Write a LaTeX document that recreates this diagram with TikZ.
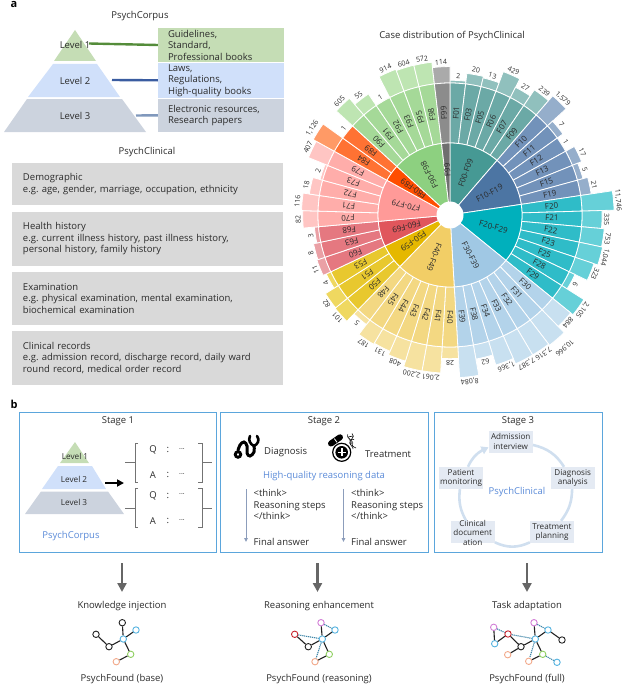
\documentclass[tikz,border=0pt]{standalone}
\usepackage{fontspec}
\setmainfont{Open Sans}
\usetikzlibrary{arrows.meta,bending}
\definecolor{txt}{HTML}{2B2B2B}
\definecolor{inA}{HTML}{469994}\definecolor{midA}{HTML}{6BA9A6}\definecolor{outA}{HTML}{90C0BD}
\definecolor{inB}{HTML}{4C75A3}\definecolor{midB}{HTML}{7292BA}\definecolor{outB}{HTML}{95AECB}
\definecolor{inC}{HTML}{00B0BC}\definecolor{midC}{HTML}{2FBCC8}\definecolor{outC}{HTML}{66D0D8}
\definecolor{inD}{HTML}{A0C8E4}\definecolor{midD}{HTML}{B3D3EA}\definecolor{outD}{HTML}{C8E0F0}
\definecolor{inE}{HTML}{F2CE66}\definecolor{midE}{HTML}{F3D882}\definecolor{outE}{HTML}{F6E2A0}
\definecolor{inF}{HTML}{E5B800}\definecolor{midF}{HTML}{E8C82E}\definecolor{outF}{HTML}{EFD860}
\definecolor{inG}{HTML}{E0565C}\definecolor{midG}{HTML}{E57880}\definecolor{outG}{HTML}{EAA0A5}
\definecolor{inH}{HTML}{FF9A98}\definecolor{midH}{HTML}{FFADAA}\definecolor{outH}{HTML}{FFC5C3}
\definecolor{inI}{HTML}{FF4E00}\definecolor{midI}{HTML}{FF7233}\definecolor{outI}{HTML}{FF9A66}
\definecolor{inJ}{HTML}{8DD080}\definecolor{midJ}{HTML}{A5D998}\definecolor{outJ}{HTML}{BEE5B2}
\definecolor{inK}{HTML}{6F6F6F}\definecolor{midK}{HTML}{8C8C8C}\definecolor{outK}{HTML}{AAAAAA}
\definecolor{lvlg}{HTML}{C5DDB5}\definecolor{lvlb}{HTML}{D0E0FA}\definecolor{lvlc}{HTML}{CCD3DE}
\definecolor{stagec}{HTML}{5BA6DC}\definecolor{bluetxt}{HTML}{5B8BD8}
\definecolor{nblk}{HTML}{222222}\definecolor{nblu}{HTML}{55B3E0}\definecolor{ngrn}{HTML}{8FCF60}
\definecolor{nora}{HTML}{F2A98A}\definecolor{nmag}{HTML}{D27FD6}\definecolor{nred}{HTML}{C8222B}
\definecolor{dotc}{HTML}{3F86A8}\definecolor{cyc}{HTML}{D0DFEF}\definecolor{cycbox}{HTML}{E4EAF3}
\definecolor{lineg}{HTML}{548C3A}\definecolor{lineb}{HTML}{3A5CA0}\definecolor{linec}{HTML}{8098BC}
\definecolor{arrowc}{HTML}{8C9DBB}
\newcommand\sect[5]{\fill[#1,draw=white,line width=.8pt] (#2:#4pt) -- (#2:#5pt) arc[start angle=#2,end angle=#3,radius=#5pt] -- (#3:#4pt) arc[start angle=#3,end angle=#2,radius=#4pt] -- cycle;}
\tikzset{
 every node/.style={text=txt,font=\fontsize{9.5}{11.5}\selectfont\frenchspacing},
 lab/.style={font=\fontsize{9.5}{11.5}\selectfont\frenchspacing},
 slab/.style={font=\fontsize{8.2}{10}\selectfont},
 sun/.style={font=\fontsize{8}{9}\selectfont,inner sep=0pt},
 val/.style={font=\fontsize{7}{8}\selectfont,inner sep=0pt},
 panel/.style={font=\fontsize{11}{12}\selectfont\bfseries,text=black},
 srcbox/.style={rectangle,minimum width=126pt,text width=106pt,inner xsep=10pt,inner ysep=0pt,align=left},
 graybox/.style={rectangle,fill=black!15,minimum width=271pt,text width=249pt,inner xsep=11pt,inner ysep=0pt,align=left},
 stagebox/.style={draw=stagec,line width=1pt,fill=none},
 cycnode/.style={rectangle,fill=cycbox,font=\fontsize{8.1}{9.6}\selectfont,inner sep=1pt,align=center,minimum width=44pt,minimum height=22pt},
 cycline/.style={draw=cyc,line width=2.6pt},
 down/.style={draw=black!60,line width=2.7pt,-{Triangle[width=9pt,length=9pt]}},
 gn/.style={circle,draw=#1,fill=white,inner sep=0pt,minimum size=6.4pt,line width=.9pt},
 se/.style={draw=nblk,line width=1.1pt},
 de/.style={draw=dotc,line width=1.1pt,dash pattern=on 1.2pt off .8pt},
 thinarrow/.style={draw=arrowc,line width=1pt,-{Triangle[width=3.5pt,length=4pt]}},
 brk/.style={draw=black!55,line width=.7pt},
}
\begin{document}
\begin{tikzpicture}[x=1pt,y=-1pt]
\useasboundingbox (0,0) rectangle (621,685);
\node[panel] (pa) at (14,4) {a};
\node[panel] (pb) at (14,404) {b};
\node[lab] (tCorpus) at (140,16) {PsychCorpus};
\node[lab] (tClin) at (147,152) {PsychClinical};
\node[lab] (tCase) at (452,36) {Case distribution of PsychClinical};
% pyramid a
\fill[lvlg] (75,30) -- (96,61) -- (54,61) -- cycle;
\fill[lvlb] (53,64) -- (97,64) -- (120,97) -- (28,97) -- cycle;
\fill[lvlc] (27,99) -- (122,99) -- (146,132) -- (4,132) -- cycle;
\node[srcbox,fill=lvlg,minimum height=34.5pt] (b1) at (221,45) {Guidelines,\\Standard,\\Professional books};
\node[srcbox,fill=lvlb,minimum height=34.5pt] (b2) at (221,80.3) {Laws,\\Regulations,\\High-quality books};
\node[srcbox,fill=lvlc,minimum height=33.5pt] (b3) at (221,115.3) {Electronic resources,\\Research papers};
\node[lab] (l1) at (75,45) {Level 1};
\node[lab] (l2) at (75,80.5) {Level 2};
\node[lab] (l3) at (75,116) {Level 3};
\coordinate (c1) at (89,43.5);\coordinate (c2) at (112,80);\coordinate (c3) at (136,115.5);
\draw[draw=lineg,line width=2.4pt] (c1) -- (b1.west);
\draw[draw=lineb,line width=2.4pt] (c2) -- (b2.west);
\draw[draw=linec,line width=2.4pt] (c3) -- (b3.west);
% gray boxes
\node[graybox,minimum height=42.3pt] (g1) at (147.5,183.8) {Demographic\\e.g. age, gender, marriage, occupation, ethnicity};
\node[graybox,minimum height=53.7pt] (g2) at (147.5,238.8) {Health history\\e.g. current illness history, past illness history,\\personal history, family history};
\node[graybox,minimum height=52.7pt] (g3) at (147.5,298.4) {Examination\\e.g. physical examination, mental examination,\\biochemical examination};
\node[graybox,minimum height=53.7pt] (g4) at (147.5,357.8) {Clinical records\\e.g. admission record, discharge record, daily ward\\round record, medical order record};
% sunburst
\begin{scope}[shift={(450,215)},x=1pt,y=1pt]
\def\st{6.79245}
\foreach \lab/\v/\tx/\g/\ex [count=\i from 0] in {F01/2/2/A/0,F03/20/20/A/0,F05/13/13/A/0,F06/429/429/A/0,F07/27/27/A/0,F09/239/239/A/0,
 F10/1579/1{,}579/B/0,F11/7/7/B/0,F12/1/1/B/0,F13/17/17/B/0,F15/5/5/B/0,F19/21/21/B/0,
 F20/11746/11{,}746/C/0,F21/335/335/C/0,F22/753/753/C/0,F23/1044/1{,}044/C/0,F25/323/323/C/0,F28/6/6/C/0,F29/2105/2{,}105/C/0,
 F30/884/884/D/0,F31/10966/10{,}966/D/7,F32/7316/7{,}316/D/0,F33/7387/7{,}387/D/0,F34/1366/1{,}366/D/0,F38/62/62/D/0,F39/8084/8{,}084/D/0,
 F40/28/28/E/0,F41/2061/2{,}061/E/0,F42/2200/2{,}200/E/0,F43/408/408/E/0,F44/131/131/E/0,F45/187/187/E/0,F48/5/5/E/0,
 F50/101/101/F/0,F51/82/82/F/0,F53/4/4/F/0,
 F60/11/11/G/0,F63/8/8/G/0,F68/3/3/G/0,
 F70/82/82/H/0,F71/116/116/H/0,F72/18/18/H/0,F73/2/2/H/0,F79/407/407/H/0,
 F84/1126/1{,}126/I/2,F89/1/1/I/0,
 F90/605/605/J/0,F91/55/55/J/0,F92/1/1/J/0,F93/914/914/J/0,F95/604/604/J/0,F98/572/572/J/0,
 F99/114/114/K/0}{
  \pgfmathsetmacro\aone{90-\i*\st}
  \pgfmathsetmacro\atwo{90-(\i+1)*\st}
  \pgfmathsetmacro\amid{90-(\i+.5)*\st}
  \pgfmathsetmacro\rr{132.4+7.8*log10(\v)}
  \pgfmathsetmacro\rl{\rr+4.6+\ex}
  \pgfmathsetmacro\rot{\amid-90}
  \sect{out\g}{\aone}{\atwo}{132}{\rr}
  \sect{mid\g}{\aone}{\atwo}{72}{132}
  \node[sun,rotate=\amid] (leaf\i) at (\amid:102pt) {\lab};
  \node[val,rotate=\rot] (val\i) at (\amid:\rl pt) {\tx};
}
\foreach \lab/\s/\e/\g [count=\j] in {F00-F09/0/6/A,F10-F19/6/12/B,F20-F29/12/19/C,F30-F39/19/26/D,F40-F49/26/33/E,F50-F59/33/36/F,F60-F69/36/39/G,F70-F79/39/44/H,F80-F89/44/46/I,F90-F98/46/52/J,F99/52/53/K}{
  \pgfmathsetmacro\aone{90-\s*\st}
  \pgfmathsetmacro\atwo{90-\e*\st}
  \pgfmathsetmacro\amid{90-(\s+\e)/2*\st}
  \sect{in\g}{\aone}{\atwo}{10}{72}
  \node[sun,rotate=\amid] (grp\j) at (\amid:45pt) {\lab};
}
\fill[white] (0,0) circle (13.5pt);
\end{scope}
% stage boxes
\draw[stagebox] (19.5,412.5) rectangle (216,552.5);
\draw[stagebox] (220,412.5) rectangle (428.7,552.5);
\draw[stagebox] (434.3,412.5) rectangle (602.3,552.5);
\node[lab] (s1) at (118,421) {Stage 1};
\node[lab] (s2) at (324,421) {Stage 2};
\node[lab] (s3) at (518,421) {Stage 3};
% stage 1
\fill[lvlg] (75,442) -- (89,463) -- (60,463) -- cycle;
\fill[lvlb] (58,466) -- (92,466) -- (106,489) -- (42,489) -- cycle;
\fill[lvlc] (41,491.5) -- (108,491.5) -- (124,514) -- (25,514) -- cycle;
\node[slab] (m1) at (75,456) {Level 1};
\node[slab] (m2) at (74,479) {Level 2};
\node[slab] (m3) at (74,502.5) {Level 3};
\coordinate (ar1) at (105,483);\coordinate (ar2) at (124,483);
\draw[line width=2pt,-{Triangle[width=7pt,length=7pt]}] (ar1) -- (ar2);
\foreach \t/\yy in {443/1,488.5/2}{
  \pgfmathsetmacro\bt{\t}\pgfmathsetmacro\bb{\t+39}\pgfmathsetmacro\bm{\t+19.5}
  \draw[brk] (138,\bt) -- (135,\bt) -- (135,\bb) -- (138,\bb);
  \draw[brk] (198,\bt) -- (202,\bt) -- (202,\bb) -- (198,\bb);
  \draw[brk] (125,\bm) -- (135,\bm);
  \draw[brk] (202,\bm) -- (212,\bm);
}
\foreach \L/\yy [count=\k] in {Q/450,A/475,Q/495.5,A/521}{
  \node[lab] (qa\k) at (153,\yy) {\L};
  \node[lab] (qc\k) at (168,\yy) {:};
  \node[lab] (qd\k) at (182,\yy) {\fontsize{7}{8}\selectfont ···};
}
\node[lab,text=bluetxt] (pc) at (71,536) {PsychCorpus};
% stage 2 icons
\draw[line width=3pt,line cap=round] plot[smooth,tension=.7] coordinates {(238,450.5) (240,445) (244,442) (247,446) (247,453) (250,456) (254,452) (254,446)};
\draw[line width=2.8pt] (238,454.5) circle (2.8pt);
\draw[line width=2.6pt,line cap=round] (254,446) .. controls (250,444) and (248,440) .. (250,436);
\draw[line width=2.6pt,line cap=round] (254,446) .. controls (258,444) and (260,440) .. (257,436);
\node[lab,anchor=west,inner sep=0pt] (dg) at (264,452.5) {Diagnosis};
\draw[line width=6pt,line cap=round] (331,443.5) -- (340,437.3);
\draw[white,line width=.8pt] (334.3,438.6) -- (337,442.3);
\draw[line width=1.2pt,fill=white] (341.7,452.3) circle (9pt);
\fill (341.7,452.3) circle (6.3pt);
\draw[white,line width=1.6pt] (337.7,452.3) -- (345.7,452.3) (341.7,448.3) -- (341.7,456.3);
\draw[line width=.6pt] (347.7,434.3) .. controls (345,438) and (355,441) .. (352,444) .. controls (351,446) and (354,447) .. (356,448);
\draw[line width=.6pt] (352,433.5) .. controls (357,437) and (347,441) .. (350.5,444.5) .. controls (352,447) and (354,448) .. (353,449);
\draw[line width=.6pt] (348,437) -- (353,436) (349,440) -- (354,439.5) (349,443) -- (353,443);
\node[lab,anchor=west,inner sep=0pt] (tr) at (365,454.5) {Treatment};
\node[lab,text=bluetxt] (hq) at (324,476) {High-quality reasoning data};
\coordinate (t1a) at (246,489);\coordinate (t1b) at (246,542);\coordinate (t2a) at (343.5,489);\coordinate (t2b) at (343.5,542);
\draw[thinarrow] (t1a) -- (t1b);
\draw[thinarrow] (t2a) -- (t2b);
\node[lab,anchor=north west,inner sep=0pt,align=left] (r1) at (253.5,489.5) {<think>\\Reasoning steps\\</think>};
\node[lab,anchor=north west,inner sep=0pt,align=left] (r2) at (351,489.5) {<think>\\Reasoning steps\\</think>};
\node[lab,anchor=west,inner sep=0pt] (f1) at (253.5,541.5) {Final answer};
\node[lab,anchor=west,inner sep=0pt] (f2) at (351,541.5) {Final answer};
% stage 3
\node[cycnode] (ad) at (510.7,441.7) {Admission\\interview};
\node[cycnode] (di) at (572.7,478) {Diagnosis\\analysis};
\node[cycnode] (tp) at (552,532) {Treatment\\planning};
\node[cycnode] (cd) at (472.7,532) {};
\node[cycnode,fill=none,minimum height=0pt] (cdt) at (472.7,532.7) {Clinical\\document\\ation};
\node[cycnode] (pm) at (461,478) {Patient\\monitoring};
\node[lab,text=bluetxt] (pcl) at (517,492) {PsychClinical};
\draw[cycline] (ad) to[bend left=22] (di);
\draw[cycline] (di) to[bend left=18] (tp);
\draw[cycline] (tp) to[bend left=25] (cd);
\draw[cycline] (cd) to[bend left=18] (pm);
\draw[cycline,-{Triangle[width=8pt,length=7pt]}] (pm) to[bend left=22] (ad);
% down arrows
\coordinate (d1a) at (122,563);\coordinate (d1b) at (122,592);
\coordinate (d2a) at (317.5,563);\coordinate (d2b) at (317.5,592);
\coordinate (d3a) at (527,563);\coordinate (d3b) at (527,592);
\draw[down] (d1a) -- (d1b);\draw[down] (d2a) -- (d2b);\draw[down] (d3a) -- (d3b);
\node[lab] (k1) at (122,606) {Knowledge injection};
\node[lab] (k2) at (319,606) {Reasoning enhancement};
\node[lab] (k3) at (527,606) {Task adaptation};
\node[lab] (n1) at (122,679) {PsychFound (base)};
\node[lab] (n2) at (319,679) {PsychFound (reasoning)};
\node[lab] (n3) at (527,679) {PsychFound (full)};
% graph base
\node[gn=nblk] (a1) at (122.3,622.7) {};
\node[gn=nblu] (a2) at (136,630) {};
\node[gn=nblu] (a3) at (123.3,639) {};
\node[gn=nblk] (a4) at (96,634.3) {};
\node[gn=nblk] (a5) at (109,646.7) {};
\node[gn=ngrn] (a6) at (130.7,654.3) {};
\node[gn=nora] (a7) at (116.3,661.7) {};
\draw[se] (a1)--(a3) (a3)--(a2) (a3)--(a5) (a5)--(a4) (a3)--(a6) (a6)--(a7);
% graph reasoning
\node[gn=nmag] (b11) at (321,622.7) {};
\node[gn=nblu] (b12) at (335,630) {};
\node[gn=nblu] (b13) at (322.3,639) {};
\node[gn=nred] (b14) at (294.7,634.3) {};
\node[gn=nblk] (b15) at (308.3,646.7) {};
\node[gn=ngrn] (b16) at (329.3,654.3) {};
\node[gn=nora] (b17) at (315,661.7) {};
\draw[se] (b11)--(b13) (b13)--(b12) (b13)--(b15) (b15)--(b14) (b13)--(b16) (b16)--(b17);
\draw[de] (b14)--(b13) (b11)--(b12) (b13)--(b17);
% graph full
\node[gn=nmag] (c11) at (534,622.7) {};
\node[gn=nblu] (c12) at (548,630) {};
\node[gn=nblk] (c13) at (562,640) {};
\node[gn=nblu] (c14) at (535.3,639) {};
\node[gn=nblk] (c15) at (521,646.7) {};
\node[gn=nred] (c16) at (508,634) {};
\node[gn=nmag] (c17) at (493.7,627.3) {};
\node[gn=nblu] (c18) at (494.7,643.7) {};
\node[gn=nora] (c19) at (507.7,654.7) {};
\node[gn=ngrn] (c20) at (542.7,654.3) {};
\node[gn=nora] (c21) at (528.7,661.3) {};
\node[gn=nblu] (c22) at (557,662.3) {};
\draw[se] (c11)--(c14) (c14)--(c12) (c12)--(c13) (c14)--(c15) (c15)--(c16) (c16)--(c18) (c18)--(c17) (c15)--(c19) (c14)--(c20) (c20)--(c21);
\draw[de] (c17)--(c16) (c16)--(c14) (c11)--(c12) (c14)--(c21) (c20)--(c22);
\end{tikzpicture}
\end{document}
